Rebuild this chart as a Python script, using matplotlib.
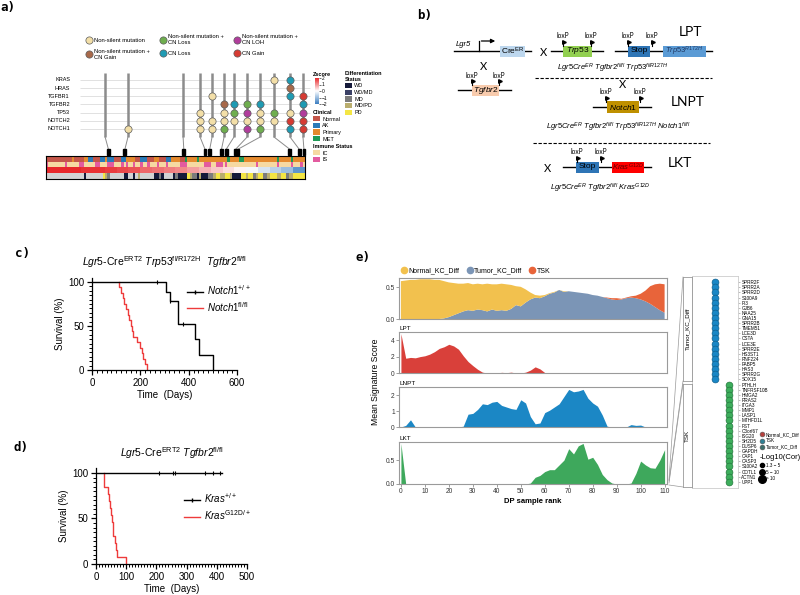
import numpy as np
import matplotlib.pyplot as plt
import matplotlib.cm as cm
from matplotlib.patches import Rectangle, Patch
from matplotlib.lines import Line2D
from matplotlib.colors import LinearSegmentedColormap, Normalize, to_rgb

plt.rcParams['font.family'] = 'Liberation Sans'
plt.rcParams['mathtext.fontset'] = 'custom'
plt.rcParams['mathtext.rm'] = 'Liberation Sans'
plt.rcParams['mathtext.it'] = 'Liberation Sans:italic'
plt.rcParams['mathtext.bf'] = 'Liberation Sans:bold'

# ---------------- panel a data
genes = ['KRAS', 'HRAS', 'TGFBR1', 'TGFBR2', 'TP53', 'NOTCH2', 'NOTCH1']
mut_labels = ['Non-silent mutation', 'Non-silent mutation +\nCN Gain',
              'Non-silent mutation +\nCN Loss', 'CN Loss',
              'Non-silent mutation +\nCN LOH', 'CN Gain']
mut_codes = ['n', 'g', 'l', 'c', 'h', 'G']
mut_colors = ['#f3dfa8', '#a8694a', '#6fae4f', '#1f9bb3', '#b13d9c', '#d63b33']
# one string per lollipop, genes top to bottom
stem_muts = ['.......', '......n', '.......', '....nnn', '..n..nn', '...gnnl',
             '...cln.', '...lhnh', '...cnnl', 'n...ln.', 'cgc.nGc', '..GchGG']
stem_x = [25.1, 34.8, 58.2, 65.4, 70.5, 75.6, 79.8, 85.4, 90.9, 96.8, 103.6, 109.1]
stem_sample = [26, 33, 58, 67, 69, 74, 76, 80, 81, 103, 107, 109]

clinical = ("nnnnnnnnnn" "npnnnnppaa" "nnnaapaaan" "nnaappppnn" "aaannnppnn" "naappppnnm"
            "ppppmppppp" "pppppppmpp" "ppmmpppppp" "ppppppppmp" "ppppmppppp")
immune = ("scccccccsc" "ccccsscccc" "csscccsssc" "ccscsccscc" "sccscccscc" "cscccccsss"
          "cccccccsss" "ccssscsccc" "cccccccccs" "ccccccccsc" "ccccscccsc")
diff = ("----------" "------W---" "----PmM---" "---WW--W-m" "------WWMW" "----WMWWWW"
        "PmMMWmWWWM" "MmPPmmPPmW" "WWWPPmPPMm" "PPMMmPPPmm" "PPMmmPPPPP")
zscore_blocks = [2.0, 2.0, 2.0, 1.9, 1.9, 1.8, 1.7, 1.6, 1.4, 1.3, 1.2, 1.1,
                 0.9, 0.7, 0.5, 0.3, 0.1, -0.1, -0.4, -0.7, -1.0, -1.6]

clin_names = ['Normal', 'AK', 'Primary', 'MET']
clin_colors = {'n': '#c4564a', 'a': '#2a7ab8', 'p': '#e58a2e', 'm': '#1f9a57'}
imm_names = ['IC', 'IS']
imm_colors = {'c': '#f6d9a2', 's': '#e35b9f'}
diff_names = ['WD', 'WD/MD', 'MD', 'MD/PD', 'PD']
diff_colors = {'W': '#151a3a', 'w': '#3b4166', 'M': '#7c7c7c', 'm': '#b9ad6e',
               'P': '#f4e644', '-': '#d3d3d3'}

# ---------------- panel c / d data
notch_wt_t = [0, 306, 322, 357, 426, 443, 502]
notch_wt_s = [100, 89, 78, 52, 35, 17.5, 0]
notch_wt_cens = [270, 322, 375]
notch_fl_t = [112, 120, 128, 134, 140, 148, 155, 162, 166, 170, 185, 199, 205, 212, 219, 226]
notch_fl_s = [93.8, 87.5, 81.3, 75.0, 68.8, 62.5, 56.3, 50.0, 43.8, 37.5, 31.3, 25.0,
              18.8, 12.5, 6.3, 0]
kras_wt_t = [0, 416]
kras_wt_s = [100, 100]
kras_wt_cens = [208, 254, 262, 361, 388, 411]
kras_mut_t = [28, 41, 44, 47, 50, 53, 55, 57, 63, 66, 69, 100]
kras_mut_s = [84.6, 76.9, 69.2, 61.5, 53.8, 46.2, 38.5, 30.8, 23.1, 15.4, 7.7, 0]

# ---------------- panel e data (every second DP sample rank)
rank = np.arange(0, 111, 2)
tumor_kc = [0, 0, 0, 0, 0, 0, 0, 0, 0, 0.01,
            0.03, 0.06, 0.09, 0.12, 0.14, 0.13, 0.15, 0.14, 0.12, 0.15,
            0.13, 0.14, 0.13, 0.16, 0.22, 0.20, 0.26, 0.31, 0.34, 0.33,
            0.36, 0.40, 0.42, 0.46, 0.43, 0.44, 0.43, 0.42, 0.41, 0.40,
            0.38, 0.37, 0.35, 0.33, 0.31, 0.30, 0.31, 0.33, 0.34, 0.33,
            0.31, 0.28, 0.24, 0.19, 0.14, 0.10]
normal_kc = [0.60, 0.61, 0.62, 0.62, 0.63, 0.63, 0.63, 0.62, 0.62, 0.59,
             0.55, 0.51, 0.47, 0.44, 0.43, 0.42, 0.41, 0.41, 0.44, 0.40,
             0.42, 0.42, 0.42, 0.38, 0.30, 0.31, 0.21, 0.11, 0.04, 0.04,
             0.02, 0.01, 0.01, 0, 0.01, 0, 0, 0, 0, 0,
             0, 0, 0, 0, 0, 0, 0, 0, 0, 0,
             0, 0, 0, 0, 0, 0]
tsk = [0] * 40 + [0, 0, 0, 0.01, 0.02, 0.03, 0.01, 0.01, 0.02, 0.04,
                  0.09, 0.17, 0.28, 0.36, 0.42, 0.45]
lpt = [4.8, 1.8, 1.9, 1.85, 2.0, 2.1, 2.3, 2.6, 3.0, 3.2,
       3.5, 3.3, 2.9, 2.1, 1.4, 0.9, 0.45, 0.1, 0.0, 0.05,
       0.0, 0.08, 0.04, 0.1, 0.0, 0.0, 0.1, 0.35, 0.75, 0.5,
       0.05, 0, 0, 0, 0, 0, 0, 0, 0, 0,
       0, 0, 0, 0, 0, 0, 0, 0, 0, 0,
       0, 0, 0, 0, 0, 0]
lnpt = [0, 0.1, 0.45, 0, 0, 0, 0, 0, 0, 0,
        0, 0, 0, 0.05, 0.8, 0.85, 1.1, 1.45, 1.4, 1.55,
        1.6, 1.35, 1.25, 1.15, 1.1, 1.7, 1.5, 0.65, 0.2, 0.25,
        0.9, 1.05, 1.25, 1.45, 1.9, 2.35, 2.2, 2.25, 2.35, 1.8,
        1.5, 1.3, 0.75, 0.05, 0, 0, 0, 0, 0.15, 0.1,
        0.12, 0, 0, 0, 0, 0]
lkt = [0.85, 0, 0, 0, 0, 0, 0, 0, 0, 0,
       0, 0, 0, 0, 0, 0, 0, 0, 0, 0,
       0, 0, 0, 0, 0, 0, 0, 0.02, 0.14, 0.18,
       0.26, 0.3, 0.3, 0.4, 0.5, 0.74, 0.63, 0.8, 0.85, 0.52,
       0.56, 0.41, 0.2, 0.09, 0.02, 0, 0, 0, 0.02, 0.22,
       0.48, 0.4, 0.34, 0.33, 0.5, 0.72]
tumor_genes = ['SPRR2F', 'SPRR2A', 'SPRR2D', 'S100A9', 'PI3', 'GJB6', 'NAA25', 'GNA15',
               'SPRR2B', 'TMEM51', 'LCE3D', 'CSTA', 'LCE3E', 'SPRR2E', 'HS3ST1', 'RNF224',
               'FABP5', 'HAS3', 'SPRR2G', 'SOX15']
tsk_genes = ['PTHLH', 'TNFRSF10B', 'HMGA2', 'RRAS2', 'ITGA3', 'MMP1', 'LASP1', 'MTHFD1L',
             'FST', 'C3orf67', 'ISG20', 'SH2D5', 'DUSP6', 'GAPDH', 'CAP1', 'CASP3',
             'S100A2', 'COTL1', 'ACTN1', 'UPP1']

W, H = 800, 595
fig = plt.figure(figsize=(8, 5.95), dpi=100)


def px_axes(x0, y0, x1, y1):
    return fig.add_axes([x0 / W, 1 - y1 / H, (x1 - x0) / W, (y1 - y0) / H])


def ftext(x, y, s, **kw):
    return fig.text(x / W, 1 - y / H, s, **kw)


for lab, x, y in [('a)', 0, 8), ('b)', 417, 15), ('c)', 15, 253), ('d)', 13, 447), ('e)', 355, 258)]:
    ftext(x, y, lab, family='DejaVu Sans Mono', weight='bold', fontsize=9, va='center')

# ================= panel a
ax = px_axes(46, 68, 315, 156)
ax.set_xlim(0, 114.2)
ax.set_ylim(9.33, -1.47)
ax.axis('off')
for r, g in enumerate(genes):
    ax.hlines(r, 14.4, 112.2, color='#dcdcdc', lw=0.6, zorder=0)
    ax.text(10.2, r, g, ha='right', va='center', fontsize=4)
for sx, si, muts in zip(stem_x, stem_sample, stem_muts):
    ax.vlines(sx, -0.9, 7.0, color='#8c8c8c', lw=1.8, zorder=1)
    ax.plot([sx, si + 0.5], [7.0, 8.5], color='#8c8c8c', lw=0.7, zorder=1)
    ax.add_patch(Rectangle((si - 0.1, 8.5), 1.2, 0.65, color='black'))
    for r, code in enumerate(muts):
        if code in mut_codes:
            ax.scatter(sx, r, s=27, color=mut_colors[mut_codes.index(code)],
                       edgecolors='#5c5c5c', linewidths=0.5, zorder=3)

hs = [Line2D([], [], ls='none', marker='o', ms=5.2, mfc=c, mec='#5c5c5c', mew=0.5) for c in mut_colors]
fig.legend(hs, mut_labels, ncol=3, loc='center', bbox_to_anchor=(192 / W, 1 - 47 / H),
           frameon=False, fontsize=4.2, handletextpad=0.5, columnspacing=1.6,
           labelspacing=1.1, handlelength=1)

zcmap = LinearSegmentedColormap.from_list('z', ['#3a7dc0', '#ffffff', '#e8282b'])
znorm = Normalize(-2, 2)
hax = px_axes(46, 156, 305, 179)
img = np.stack([
    np.array([to_rgb(clin_colors[c]) for c in clinical]),
    np.array([to_rgb(imm_colors[c]) for c in immune]),
    zcmap(znorm(np.repeat(zscore_blocks, 5)))[:, :3],
    np.array([to_rgb(diff_colors[c]) for c in diff]),
])
hax.imshow(img, aspect='auto', interpolation='nearest', extent=(0, len(clinical), 4, 0))
hax.set_xticks([])
hax.set_yticks([])
for sp in hax.spines.values():
    sp.set_linewidth(0.8)

cax = px_axes(315, 78, 319, 104)
cb = fig.colorbar(cm.ScalarMappable(znorm, zcmap), cax=cax, ticks=[2, 1, 0, -1, -2])
cb.outline.set_visible(False)
cax.tick_params(labelsize=3.5, length=1.2, width=0.4, pad=1)
ftext(313, 74, 'Zscore', fontsize=4, weight='bold', va='center')


def patch_legend(title, names, colors, x, y):
    handles = [Patch(facecolor=c, edgecolor='none') for c in colors]
    fig.legend(handles, names, title=title, loc='upper left', bbox_to_anchor=(x / W, 1 - y / H),
               frameon=False, fontsize=4, title_fontproperties={'weight': 'bold', 'size': 4},
               handlelength=1.3, handleheight=1.1, labelspacing=0.2, handletextpad=0.4,
               borderpad=0, borderaxespad=0, alignment='left')


patch_legend('Differentiation\nStatus', diff_names, [diff_colors[k] for k in 'WwMmP'], 345, 71)
patch_legend('Clinical', clin_names, [clin_colors[k] for k in 'napm'], 313, 110)
patch_legend('Immune Status', imm_names, [imm_colors[k] for k in 'cs'], 313, 144)

# ================= panel b
bx = px_axes(400, 0, 800, 230)
bx.set_xlim(400, 800)
bx.set_ylim(230, 0)
bx.axis('off')


def gene_line(x0, x1, y):
    bx.plot([x0, x1], [y, y], color='black', lw=1.0, zorder=1)


def gbox(x0, x1, y, color, label, h=11, tcolor='black', fs=6.5):
    bx.add_patch(Rectangle((x0, y - h / 2), x1 - x0, h, facecolor=color, edgecolor='none', zorder=2))
    bx.text((x0 + x1) / 2, y, label, ha='center', va='center', fontsize=fs, color=tcolor, zorder=3)


def loxp(x, y):
    bx.plot([x, x], [y - 5.5, y - 9.5], color='black', lw=0.8, zorder=3)
    bx.plot(x + 1.3, y - 8.6, marker='>', ms=2.6, color='black', zorder=3)
    bx.text(x, y - 15, 'loxP', ha='center', va='center', fontsize=4.8, family='Lato')


def big(x, y, s, fs=8):
    bx.text(x, y, s, ha='center', va='center', fontsize=fs, family='Lato')


gene_line(454, 531, 51)
bx.text(463, 45, 'Lgr5', ha='center', va='center', fontsize=5.5, style='italic')
bx.plot([479, 479], [51, 41], color='black', lw=0.9)
bx.annotate('', xy=(498, 41), xytext=(478.6, 41),
            arrowprops=dict(arrowstyle='-|>', lw=0.9, color='black', mutation_scale=6))
gbox(500, 525, 51, '#bdd7ee', r'Cre$^{\mathrm{ER}}$', fs=6)
big(544, 52, 'X')
gene_line(551, 603, 51)
gbox(563, 592, 51, '#92d050', r'$\mathit{Trp53}$', fs=6)
loxp(563, 51)
loxp(591, 51)
gene_line(615, 712, 51)
gbox(628, 650, 51, '#2e75b6', 'Stop', fs=6)
gbox(663, 706, 51, '#5b9bd5', r'$\mathit{Trp53}^{R172H}$', tcolor='#1f3864', fs=5.5)
loxp(628, 51)
loxp(652, 51)
big(690, 32, 'LPT', fs=10)
bx.text(613, 68, r'$\mathit{Lgr5Cre}^{ER}\ \mathit{Tgfbr2}^{fl/fl}\ \mathit{Trp53}^{fl/R127H}$',
        ha='center', va='center', fontsize=5.5)
big(484, 67, 'X')
gene_line(458, 511, 90)
gbox(472, 499, 90, '#f8cbad', r'$\mathit{Tgfbr2}$', fs=6)
loxp(472, 90)
loxp(499, 90)
bx.plot([535, 712], [77.7, 77.7], color='black', lw=0.8, ls=(0, (3, 1.5)))
big(623, 85, 'X')
gene_line(593, 651, 107)
gbox(607, 639, 107, '#bf9000', r'$\mathit{Notch1}$', h=12, fs=6)
loxp(606, 107)
loxp(640, 107)
big(688, 102, 'LNPT', fs=10)
bx.text(618, 127, r'$\mathit{Lgr5Cre}^{ER}\ \mathit{Tgfbr2}^{fl/fl}\ \mathit{Trp53}^{fl/R127H}\ \mathit{Notch1}^{fl/fl}$',
        ha='center', va='center', fontsize=5.5)
bx.plot([533, 710], [143, 143], color='black', lw=0.8, ls=(0, (3, 1.5)))
big(548, 169, 'X')
gene_line(563, 651, 167)
gbox(576, 599, 167, '#2e75b6', 'Stop', fs=6)
gbox(612, 644, 167, '#ff0000', r'$\mathit{Kras}^{G12D}$', tcolor='#600000', fs=5.5)
loxp(577, 167)
loxp(601, 167)
big(680, 163, 'LKT', fs=10)
bx.text(600, 188, r'$\mathit{Lgr5Cre}^{ER}\ \mathit{Tgfbr2}^{fl/fl}\ \mathit{Kras}^{G12D}$',
        ha='center', va='center', fontsize=5.5)

# ================= panels c and d


def km_style(a, xmax, major, minor):
    a.set_xlim(0, xmax)
    a.set_ylim(0, 105)
    for s in ['top', 'right']:
        a.spines[s].set_visible(False)
    for s in ['left', 'bottom']:
        a.spines[s].set_linewidth(0.9)
    a.set_yticks([0, 50, 100])
    a.set_yticks(np.arange(0, 101, 5), minor=True)
    a.set_xticks(np.arange(0, xmax + 1, major))
    a.set_xticks(np.arange(0, xmax + 1, minor), minor=True)
    a.tick_params(which='major', labelsize=7, length=3.5, width=0.9, pad=2)
    a.tick_params(which='minor', length=2, width=0.7)
    a.set_xlabel('Time  (Days)', fontsize=7, labelpad=2)
    a.set_ylabel('Survival (%)', fontsize=7, labelpad=2)


def surv_at(ts, ss, t):
    idx = np.searchsorted(ts, t, side='right') - 1
    return ss[idx]


red = '#ee3b3b'
cax_ = px_axes(92, 277.6, 237, 370)
cax_.step([notch_fl_t[0]] + notch_fl_t, [100] + notch_fl_s, where='post', color=red, lw=1.0)
cax_.step(notch_wt_t, notch_wt_s, where='post', color='black', lw=1.0)
cax_.plot(notch_wt_cens, [surv_at(notch_wt_t, notch_wt_s, t) for t in notch_wt_cens],
          ls='none', marker='|', ms=3.5, mew=0.8, color='black')
km_style(cax_, 600, 200, 20)
cax_.set_title(r'$\mathit{Lgr5}$-Cre$^{\mathrm{ERT2}}$ $\mathit{Trp53}^{\mathrm{fl/R172H}}$  $\mathit{Tgfbr2}^{\mathrm{fl/fl}}$',
               fontsize=7.5, pad=8)
cax_.legend([Line2D([], [], color='black', lw=1, marker='|', ms=3.5), Line2D([], [], color=red, lw=1)],
            [r'$\mathit{Notch1}^{+/+}$', r'$\mathit{Notch1}^{\mathrm{fl/fl}}$'],
            loc='upper left', bbox_to_anchor=(0.63, 0.98), frameon=False, fontsize=7,
            handlelength=1.6, handletextpad=0.4, labelspacing=0.3, borderaxespad=0)

dax_ = px_axes(96, 468.4, 247, 564)
dax_.step([kras_mut_t[0]] + kras_mut_t, [100] + kras_mut_s, where='post', color=red, lw=1.0)
dax_.plot(kras_wt_t, kras_wt_s, color='black', lw=1.0)
dax_.plot(kras_wt_cens, [100] * len(kras_wt_cens), ls='none', marker='|', ms=3.5, mew=0.8, color='black')
km_style(dax_, 500, 100, 10)
dax_.set_title(r'$\mathit{Lgr5}$-Cre$^{\mathrm{ERT2}}$ $\mathit{Tgfbr2}^{\mathrm{fl/fl}}$', fontsize=7.5, pad=8)
dax_.legend([Line2D([], [], color='black', lw=1, marker='|', ms=3.5), Line2D([], [], color=red, lw=1)],
            [r'$\mathit{Kras}^{+/+}$', r'$\mathit{Kras}^{\mathrm{G12D/+}}$'],
            loc='upper left', bbox_to_anchor=(0.56, 0.8), frameon=False, fontsize=7,
            handlelength=1.6, handletextpad=0.4, labelspacing=0.3, borderaxespad=0)

# ================= panel e
c_normal, c_tumor, c_tsk = '#f2c14e', '#7b95b6', '#e8643a'
eax = [px_axes(399, 278, 667, 319), px_axes(399, 332, 667, 373),
       px_axes(399, 387, 667, 427), px_axes(399, 442, 667, 484)]
eax[0].stackplot(rank, tumor_kc, normal_kc, tsk, colors=[c_tumor, c_normal, c_tsk], lw=0)
eax[1].fill_between(rank, lpt, color='#d9403a', lw=0)
eax[2].fill_between(rank, lnpt, color='#1b87c5', lw=0)
eax[3].fill_between(rank, lkt, color='#3ea85c', lw=0)
ylims = [(0, 0.65), (0, 5.0), (0, 2.5), (0, 0.88)]
yticks = [[0.0, 0.5], [0, 2, 4], [0, 1, 2], [0.0, 0.5]]
ylabs = [['0.0', '0.5'], ['0', '2', '4'], ['0', '1', '2'], ['0.0', '0.5']]
for a, yl, yt, ytl in zip(eax, ylims, yticks, ylabs):
    a.set_xlim(-0.8, 111)
    a.set_ylim(*yl)
    a.set_yticks(yt)
    a.set_yticklabels(ytl)
    for sp in a.spines.values():
        sp.set_color('#9a9a9a')
        sp.set_linewidth(0.8)
    a.tick_params(axis='y', labelsize=4.8, length=2, width=0.5, color='#777777', pad=1, labelcolor='#333333')
    a.tick_params(axis='x', bottom=False, labelbottom=False)
eax[3].set_xticks(np.arange(0, 111, 10))
eax[3].tick_params(axis='x', bottom=True, labelbottom=True, labelsize=4.8, length=2, width=0.5,
                   color='#777777', pad=1, labelcolor='#333333')
eax[3].set_xlabel('DP sample rank', fontsize=5.5, weight='bold', labelpad=2)
for a, name in zip(eax[1:], ['LPT', 'LNPT', 'LKT']):
    a.text(0.0, 1.03, name, transform=a.transAxes, fontsize=4.6, va='bottom', ha='left')
ftext(375, 382, 'Mean Signature Score', rotation=90, ha='center', va='center', fontsize=6.2)
eax[0].legend([Line2D([], [], ls='none', marker='o', ms=4.5, color=c) for c in [c_normal, c_tumor, c_tsk]],
              ['Normal_KC_Diff', 'Tumor_KC_Diff', 'TSK'], ncol=3, loc='lower left',
              bbox_to_anchor=(-0.01, 0.98), frameon=False, fontsize=5, handletextpad=0.2,
              columnspacing=0.9, borderaxespad=0.2, handlelength=1)

# dot plot of signature genes
dot_genes = tumor_genes + tsk_genes
dax = px_axes(692, 276, 738, 488)
dax.scatter([1] * len(tumor_genes), range(len(tumor_genes)), s=24, color='#1a87c6',
            edgecolors='#0e5f8e', linewidths=0.5, zorder=3)
dax.scatter([2] * len(tsk_genes), range(len(tumor_genes), len(dot_genes)), s=24, color='#3dae5c',
            edgecolors='#23783c', linewidths=0.5, zorder=3)
dax.set_xlim(-0.643, 2.643)
dax.set_ylim(len(dot_genes) + 0.2, -1.2)
dax.set_xticks([])
dax.yaxis.tick_right()
dax.set_yticks(range(len(dot_genes)))
dax.set_yticklabels(dot_genes, fontsize=3.3)
dax.tick_params(axis='y', length=1.5, width=0.4, color='#888888', pad=1)
for sp in dax.spines.values():
    sp.set_color('#cccccc')
    sp.set_linewidth(0.6)
for name, y0, y1 in [('Tumor_KC_Diff', 277, 381), ('TSK', 384, 487)]:
    s = px_axes(683, y0, 692, y1)
    s.set_xticks([])
    s.set_yticks([])
    for sp in s.spines.values():
        sp.set_color('#999999')
        sp.set_linewidth(0.6)
    s.text(0.5, 0.5, name, rotation=90, ha='center', va='center', fontsize=4.5, transform=s.transAxes)
for (x0, y0), (x1, y1) in [((683, 277), (669, 480)), ((683, 381), (669, 481)),
                           ((683, 384), (669, 483)), ((683, 487), (669, 485))]:
    fig.add_artist(Line2D([x0 / W, x1 / W], [1 - y0 / H, 1 - y1 / H], color='#999999', lw=0.5))

fig.legend([Line2D([], [], ls='none', marker='o', ms=3.5, mfc=c, mec='#555555', mew=0.4)
            for c in ['#b5403c', '#2f7f93', '#3e6e6a']],
           ['Normal_KC_Diff', 'TSK', 'Tumor_KC_Diff'], loc='upper left',
           bbox_to_anchor=(760 / W, 1 - 432 / H), frameon=False, fontsize=3.3,
           handletextpad=0.2, labelspacing=0.25, borderpad=0, borderaxespad=0, handlelength=1)
fig.legend([Line2D([], [], ls='none', marker='o', ms=m, color='black') for m in [3, 4, 5.5]],
           ['1.3 \u2212 5', '5 \u2212 10', '> 10'], title='-Log10(Cor)', loc='upper left',
           bbox_to_anchor=(760 / W, 1 - 454 / H), frameon=False, fontsize=3.3,
           title_fontproperties={'size': 5.5}, alignment='left',
           handletextpad=0.3, labelspacing=0.4, borderpad=0, borderaxespad=0, handlelength=1)

fig.savefig('out.png', dpi=100)
